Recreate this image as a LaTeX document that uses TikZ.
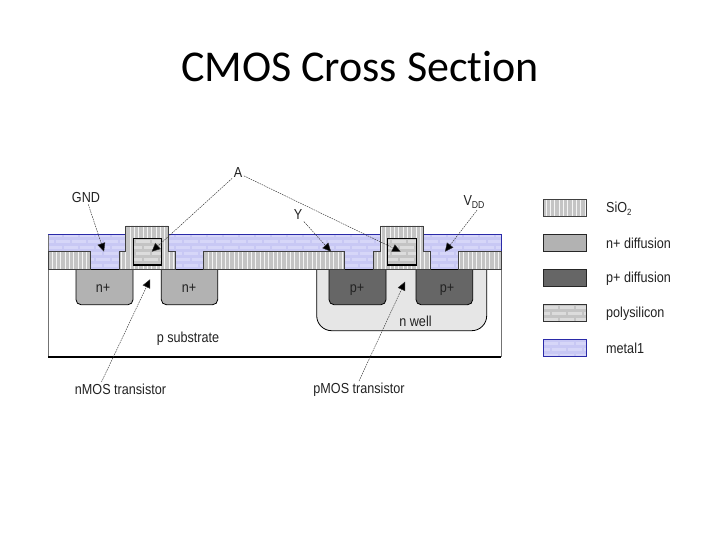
\documentclass[tikz,border=0pt]{standalone}
\usepackage{fontspec}
\setmainfont[FakeStretch=0.87]{Liberation Sans}
\newfontfamily\titlefont[Ligatures=NoCommon]{Carlito}
\usetikzlibrary{arrows.meta}
\definecolor{sioBase}{HTML}{F4F4F4}
\definecolor{sioLine}{HTML}{C4C4C4}
\definecolor{nDiff}{HTML}{B2B2B2}
\definecolor{pDiff}{HTML}{666666}
\definecolor{wellGray}{HTML}{E6E6E6}
\definecolor{polyDark}{HTML}{C4C4C4}
\definecolor{polyLight}{HTML}{DCDCDC}
\definecolor{metalDark}{HTML}{C8C8F4}
\definecolor{metalLight}{HTML}{D6D6F8}
\definecolor{metalEdge}{HTML}{2A2AA8}
\definecolor{textGray}{HTML}{222222}
\newcommand{\sioHatch}{\foreach \hx in {40,41.3,...,600}{\draw[sioLine,line width=0.6pt] (\hx,190) -- (\hx,370);}}
\newcommand{\brickRows}[2]{%
  \foreach \hy/\hp in {192/0,198/8,204/0,210/8,216/0,222/8,228/0,234/8,240/0,246/8,252/0,258/8,264/0,270/8,276/0,282/8,288/0,294/8,300/0,306/8,312/0,318/8,324/0,330/8,336/0,342/8,348/0,354/8}{%
    \draw[#1,line width=3pt,dash pattern=on 14pt off 2pt,dash phase=\hp pt] (40,\hy+1.5) -- (600,\hy+1.5);
    \draw[#2,line width=3pt,dash pattern=on 14pt off 2pt,dash phase=\hp pt] (40,\hy+4.5) -- (600,\hy+4.5);
  }}
\tikzset{
  sio/.style={fill=sioBase,path picture={\sioHatch},draw=black!75,line width=0.8pt},
  poly/.style={fill=polyDark,path picture={\brickRows{polyLight}{polyDark}},draw=black,line width=1.2pt},
  metal/.style={fill=metalDark,path picture={\brickRows{metalLight}{metalDark}}},
  ndiff/.style={fill=nDiff,draw=black,line width=0.8pt,rounded corners=5pt},
  pdiff/.style={fill=pDiff,draw=black,line width=0.8pt,rounded corners=5pt},
  lbl/.style={font=\fontsize{14.5}{16}\selectfont,text=textGray,inner sep=1.5pt},
  leadline/.style={draw=black!80,line width=0.45pt,dash pattern=on 1.6pt off 0.9pt,
    -{Triangle[length=8.5pt,width=8pt,fill=black]}},
  legendbox/.style={line width=0.9pt}
}
\begin{document}
\begin{tikzpicture}[x=1pt,y=-1pt]
\useasboundingbox (0,0) rectangle (720,540);
\fill[white] (0,0) rectangle (720,540);
\node[font=\titlefont\fontsize{44}{48}\selectfont,text=black,inner sep=0pt] (title) at (360,67) {CMOS Cross Section};

% metal
\path[metal] (48,234.5) rectangle (501,269.5);
\draw[metalEdge,line width=0.6pt] (48,234.5) -- (501,234.5) -- (501,269.5);
% substrate
\fill[white] (48,269.5) rectangle (501,357);
\draw[black!55,line width=0.5pt] (48,234.5) -- (48,357);
\draw[black!55,line width=0.5pt] (501,269.5) -- (501,357);
\draw[black,line width=1.2pt] (48,357) -- (501,357);
% n well
\draw[fill=wellGray,draw=black,line width=0.8pt,rounded corners=15pt] (316.7,269.5) -- (316.7,330.7) -- (486.7,330.7) -- (486.7,269.5);
% diffusions
\draw[ndiff] (76,269.5) -- (76,304.7) -- (133,304.7) -- (133,269.5);
\draw[ndiff] (161.3,269.5) -- (161.3,304.7) -- (217.7,304.7) -- (217.7,269.5);
\draw[pdiff] (329,269.5) -- (329,304.7) -- (386,304.7) -- (386,269.5);
\draw[pdiff] (416,269.5) -- (416,304.7) -- (472.7,304.7) -- (472.7,269.5);
\draw[black,line width=0.8pt] (48,269.5) -- (501,269.5);
% field oxide
\draw[sio] (48,251.7) rectangle (90.5,269.5);
\draw[sio] (203.7,251.7) rectangle (344.7,269.5);
\draw[sio] (458.7,251.7) rectangle (501,269.5);
% gate oxide and poly, nMOS
\draw[sio] (119,269.5) -- (119,251.7) -- (125.7,251.7) -- (125.7,226) -- (168.3,226) -- (168.3,251.7) -- (175.3,251.7) -- (175.3,269.5) -- cycle;
\draw[poly] (133.3,238.3) rectangle (161.7,265);
% gate oxide and poly, pMOS
\draw[sio] (373.3,269.5) -- (373.3,251.7) -- (380.3,251.7) -- (380.3,226) -- (423,226) -- (423,251.7) -- (430.3,251.7) -- (430.3,269.5) -- cycle;
\draw[poly] (387.7,238.3) rectangle (416.3,265);

% labels
\node[lbl] (gnd) at (86,197.5) {GND};
\node[lbl] (a) at (238,173) {A};
\node[lbl] (y) at (298,215) {Y};
\node[lbl] (vdd) at (474,202) {V\raisebox{-3pt}{\fontsize{10}{11}\selectfont DD}};
\node[lbl] (n1) at (103,288) {n+};
\node[lbl] (n2) at (189,288) {n+};
\node[lbl] (p1) at (357,290) {p+};
\node[lbl] (p2) at (447,290) {p+};
\node[lbl] (well) at (415.5,321) {n well};
\node[lbl] (sub) at (188,339) {p substrate};
\node[lbl] (nmos) at (120.5,389) {nMOS transistor};
\node[lbl] (pmos) at (359,389.5) {pMOS transistor};

% connector tips
\coordinate (tipGnd) at (104,251.7);
\coordinate (tipAn) at (151.7,251.7);
\coordinate (tipAp) at (400.7,251.7);
\coordinate (tipY) at (331,251.7);
\coordinate (tipVdd) at (445,251.7);
\coordinate (tipN) at (150,279.3);
\coordinate (tipP) at (405,281.7);
\draw[leadline] (gnd) -- (tipGnd);
\draw[leadline] (a) -- (tipAn);
\draw[leadline] (a) -- (tipAp);
\draw[leadline] (y) -- (tipY);
\draw[leadline] (vdd.-70) -- (tipVdd);
\draw[leadline] ([xshift=-19pt]nmos.north) -- (tipN);
\draw[leadline] (pmos.north) -- (tipP);

% legend
\draw[sio,legendbox] (543.3,199.3) rectangle (586,216.7);
\draw[legendbox,fill=nDiff,draw=black!85] (543.3,234.3) rectangle (586,251.7);
\draw[legendbox,fill=pDiff,draw=black!85] (543.3,269.3) rectangle (586,286.7);
\draw[poly,legendbox,draw=black!80] (543.3,304.3) rectangle (586,321.7);
\path[metal] (543.3,339.3) rectangle (586,356.7);
\draw[legendbox,draw=metalEdge] (543.3,339.3) rectangle (586,356.7);
\node[lbl,anchor=west,inner sep=0pt] (lsio) at (606,208.5) {SiO\raisebox{-3pt}{\fontsize{9}{10}\selectfont 2}};
\node[lbl,anchor=west,inner sep=0pt] (lnd) at (606,243) {n+ diffusion};
\node[lbl,anchor=west,inner sep=0pt] (lpd) at (606,279) {p+ diffusion};
\node[lbl,anchor=west,inner sep=0pt] (lpo) at (606,314) {polysilicon};
\node[lbl,anchor=west,inner sep=0pt] (lme) at (606,348) {metal1};
\end{tikzpicture}
\end{document}
